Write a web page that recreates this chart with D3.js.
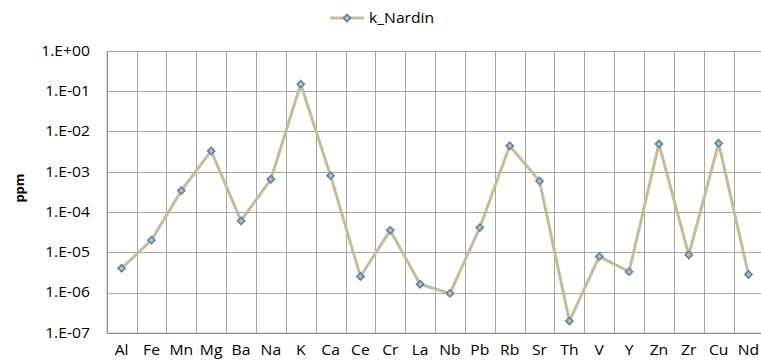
<!DOCTYPE html>
<html><head><meta charset="utf-8">
<script src="https://cdn.jsdelivr.net/npm/d3@7"></script>
<style>body{margin:0;background:#fff;}svg{display:block;font-family:"Open Sans",sans-serif;}</style>
</head><body><svg id="c" width="761" height="361"></svg>
<script>
const categories = ["Al","Fe","Mn","Mg","Ba","Na","K","Ca","Ce","Cr","La","Nb","Pb","Rb","Sr","Th","V","Y","Zn","Zr","Cu","Nd"];
const values = [4.0e-6,2.0e-5,3.4e-4,3.3e-3,6.0e-5,6.5e-4,0.15,8.0e-4,2.5e-6,3.5e-5,1.6e-6,9.5e-7,4.1e-5,4.4e-3,5.9e-4,1.95e-7,7.8e-6,3.3e-6,4.9e-3,8.6e-6,5.1e-3,2.8e-6];
const yTicks = [1,1e-1,1e-2,1e-3,1e-4,1e-5,1e-6,1e-7];
const yTickLabels = ["1.E+00","1.E-01","1.E-02","1.E-03","1.E-04","1.E-05","1.E-06","1.E-07"];
const seriesName = "k_Nardin";
const yTitle = "ppm";

const svg = d3.select("#c");
const L = 106.7, R = 763.4, T = 51, B = 332.75;
const x = d3.scaleBand().domain(categories).range([L, R]).padding(0);
const y = d3.scaleLog().domain([1e-7, 1]).range([B, T]);
const lineC = "#c4bd97", markC = "#4f81bd", gridC = "#a6a6a6";
const FS = 14, SX = 1.12;

// grid
const g = svg.append("g");
g.selectAll("line.h").data(yTicks).enter().append("line")
  .attr("x1", L).attr("x2", R).attr("y1", d => Math.round(y(d)) + 0.5).attr("y2", d => Math.round(y(d)) + 0.5)
  .attr("stroke", gridC).attr("stroke-width", 1);
const bounds = categories.map(c => x(c)).concat([R]);
g.selectAll("line.v").data(bounds).enter().append("line")
  .attr("y1", T).attr("y2", B).attr("x1", d => Math.round(d) + 0.5).attr("x2", d => Math.round(d) + 0.5)
  .attr("stroke", gridC).attr("stroke-width", 1);

// axes
const yAxis = d3.axisLeft(y).tickValues(yTicks).tickFormat((d, i) => yTickLabels[i]).tickSize(0).tickPadding(15);
const ya = svg.append("g").attr("transform", `translate(${L},0)`).call(yAxis);
ya.select(".domain").attr("stroke", "#868686");
ya.selectAll("text").attr("font-size", FS).attr("fill", "#000").attr("font-family", "Open Sans, sans-serif")
  .attr("transform", `scale(${SX},1)`);
const xAxis = d3.axisBottom(x).tickSize(0).tickPadding(12);
const xa = svg.append("g").attr("transform", `translate(0,${B})`).call(xAxis);
xa.select(".domain").attr("stroke", "#868686");
xa.selectAll("text").attr("font-size", FS).attr("fill", "#000").attr("font-family", "Open Sans, sans-serif")
  .attr("transform", `scale(${SX},1)`);

// y title
svg.append("text").attr("transform", "translate(24,188) rotate(-90)").attr("text-anchor", "middle")
  .attr("font-size", 13).attr("font-weight", "bold").text(yTitle);

// line
const cx = d => x(d) + x.bandwidth() / 2;
const line = d3.line().x((d, i) => cx(categories[i])).y(d => y(d));
svg.append("path").datum(values).attr("d", line).attr("fill", "none").attr("stroke", lineC).attr("stroke-width", 3);
svg.selectAll("path.m").data(values).enter().append("path")
  .attr("d", d3.symbol().type(d3.symbolSquare).size(26))
  .attr("transform", (d, i) => `translate(${cx(categories[i])},${y(d)}) rotate(45)`)
  .attr("fill", lineC).attr("stroke", markC).attr("stroke-width", 1.5);

// legend
const lg = svg.append("g");
lg.append("line").attr("x1", 330).attr("x2", 364).attr("y1", 18).attr("y2", 18).attr("stroke", lineC).attr("stroke-width", 3);
lg.append("path").attr("d", d3.symbol().type(d3.symbolSquare).size(26)).attr("transform", "translate(347,18) rotate(45)")
  .attr("fill", lineC).attr("stroke", markC).attr("stroke-width", 1.5);
lg.append("text").attr("transform", `translate(369,23) scale(${SX},1)`).attr("font-size", FS).text(seriesName);
</script></body></html>
